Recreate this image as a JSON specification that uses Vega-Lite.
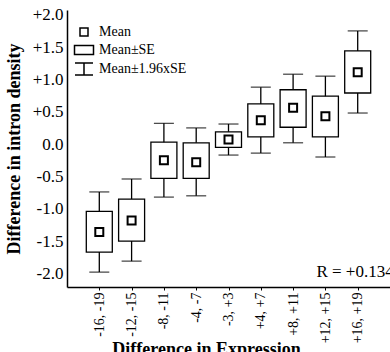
{
  "$schema": "https://vega.github.io/schema/vega-lite/v6.json",
  "width": 323,
  "height": 277,
  "autosize": {"type": "none"},
  "padding": {"left": 67, "top": 10, "right": 40, "bottom": 80},
  "background": "white",
  "config": {"view": {"stroke": null}, "font": "Liberation Serif"},
  "data": {
    "values": [
      {"group": "-16, -19", "stat": "Mean", "mean": -1.36, "loSE": -1.67, "hiSE": -1.04, "lo196": -1.98, "hi196": -0.74},
      {"group": "-12, -15", "stat": "Mean", "mean": -1.18, "loSE": -1.5, "hiSE": -0.85, "lo196": -1.81, "hi196": -0.54},
      {"group": "-8, -11", "stat": "Mean", "mean": -0.25, "loSE": -0.53, "hiSE": 0.03, "lo196": -0.82, "hi196": 0.32},
      {"group": "-4, -7", "stat": "Mean", "mean": -0.28, "loSE": -0.53, "hiSE": 0.02, "lo196": -0.8, "hi196": 0.25},
      {"group": "-3, +3", "stat": "Mean", "mean": 0.07, "loSE": -0.05, "hiSE": 0.19, "lo196": -0.17, "hi196": 0.31},
      {"group": "+4, +7", "stat": "Mean", "mean": 0.37, "loSE": 0.11, "hiSE": 0.62, "lo196": -0.14, "hi196": 0.88},
      {"group": "+8, +11", "stat": "Mean", "mean": 0.56, "loSE": 0.26, "hiSE": 0.84, "lo196": 0.02, "hi196": 1.08},
      {"group": "+12, +15", "stat": "Mean", "mean": 0.43, "loSE": 0.11, "hiSE": 0.74, "lo196": -0.2, "hi196": 1.05},
      {"group": "+16, +19", "stat": "Mean", "mean": 1.11, "loSE": 0.79, "hiSE": 1.44, "lo196": 0.48, "hi196": 1.75}
    ]
  },
  "encoding": {
    "x": {
      "field": "group",
      "type": "nominal",
      "sort": null,
      "scale": {"type": "point", "padding": 1.3},
      "axis": {
        "title": "Difference in Expression",
        "titleFont": "Liberation Serif",
        "titleFontWeight": "bold",
        "titleFontSize": 18,
        "titleColor": "black",
        "titleX": 139,
        "titleY": 53,
        "titleAlign": "center",
        "labelAngle": -90,
        "labelFont": "Liberation Serif",
        "labelFontSize": 14,
        "labelColor": "black",
        "labelPadding": 2,
        "labelOverlap": false,
        "tickSize": 3,
        "tickColor": "black",
        "domainColor": "black",
        "domainWidth": 1.5,
        "grid": false
      }
    }
  },
  "layer": [
    {
      "mark": {"type": "rule", "color": "black", "strokeWidth": 1.3},
      "encoding": {
        "y": {
          "field": "lo196",
          "type": "quantitative",
          "scale": {"domain": [-2.21, 2.073], "nice": false, "zero": false},
          "axis": {
            "title": "Difference in intron density",
            "titleFont": "Liberation Serif",
            "titleFontWeight": "bold",
            "titleFontSize": 18,
            "titleColor": "black",
            "titlePadding": 9,
            "values": [-2, -1.5, -1, -0.5, 0, 0.5, 1, 1.5, 2],
            "tickCount": 20,
            "labelExpr": "(datum.value > 0 ? '+' : (datum.value < 0 ? '-' : '')) + format(abs(datum.value), '.1f')",
            "labelFont": "Liberation Serif",
            "labelFontSize": 17,
            "labelColor": "black",
            "labelPadding": 4,
            "labelOverlap": false,
            "ticks": false,
            "domainColor": "black",
            "domainWidth": 1.5,
            "grid": false
          }
        },
        "y2": {"field": "hi196"}
      }
    },
    {
      "mark": {"type": "tick", "orient": "horizontal", "size": 20, "thickness": 1.3, "color": "black"},
      "encoding": {"y": {"field": "hi196", "type": "quantitative"}}
    },
    {
      "mark": {"type": "tick", "orient": "horizontal", "size": 20, "thickness": 1.3, "color": "black"},
      "encoding": {"y": {"field": "lo196", "type": "quantitative"}}
    },
    {
      "mark": {"type": "bar", "size": 26, "fill": "white", "stroke": "black", "strokeWidth": 1.3},
      "encoding": {"y": {"field": "loSE", "type": "quantitative"}, "y2": {"field": "hiSE"}}
    },
    {
      "mark": {"type": "point", "filled": false, "color": "black", "size": 400, "strokeWidth": 2, "opacity": 1},
      "encoding": {
        "y": {"field": "mean", "type": "quantitative"},
        "shape": {
          "field": "stat",
          "type": "nominal",
          "scale": {
            "domain": ["Mean", "Mean±SE", "Mean±1.96xSE"],
            "range": ["M-0.4,-0.4H0.4V0.4H-0.4Z", "M-0.95,-0.45H0.95V0.45H-0.95Z", "M-0.9,-0.6H0.9M0,-0.6V0.6M-0.9,0.6H0.9"]
          },
          "legend": {
            "title": null,
            "orient": "none",
            "legendX": 6,
            "legendY": 11,
            "padding": 0,
            "symbolSize": 400,
            "symbolStrokeColor": "black",
            "symbolStrokeWidth": 1.5,
            "symbolFillColor": "white",
            "labelFont": "Liberation Serif",
            "labelFontSize": 14,
            "labelColor": "black",
            "labelOffset": 4,
            "rowPadding": 0
          }
        }
      }
    },
    {
      "data": {"values": [{"group": "+12, +15", "r": "R = +0.134", "y": -2.06}]},
      "mark": {"type": "text", "align": "left", "baseline": "alphabetic", "fontSize": 17, "dx": -9, "color": "black"},
      "encoding": {
        "x": {"field": "group", "type": "nominal"},
        "y": {"field": "y", "type": "quantitative"},
        "text": {"field": "r"}
      }
    }
  ]
}
